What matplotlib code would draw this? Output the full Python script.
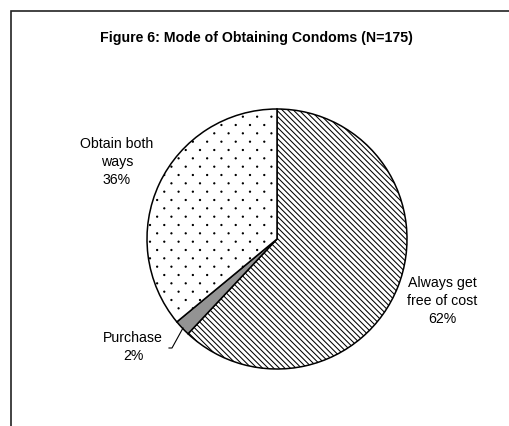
import numpy as np
import matplotlib.pyplot as plt
import matplotlib.hatch as mhatch
from matplotlib.path import Path
from matplotlib.patches import Rectangle

plt.rcParams["font.family"] = ["Liberation Sans", "DejaVu Sans"]
plt.rcParams["hatch.linewidth"] = 0.75

# data
categories = ["Always get\nfree of cost", "Purchase", "Obtain both\nways"]
shares = [62, 2, 36]
hatches = ["\\\\\\\\\\\\", "", "."]
colors = ["white", "#939393", "white"]


# '.' hatch replaced by a sparser, staggered dot grid like the original
class StaggeredDots(mhatch.HatchPatternBase):
    cols, rows, radius = 7, 12, 0.006

    def __init__(self, hatch, density):
        self.on = hatch.count(".") > 0
        circle = Path.unit_circle()
        self.shape_vertices = circle.vertices * self.radius
        self.shape_codes = circle.codes
        centres = []
        for i in range(self.rows + 1):
            y = i / self.rows
            if i % 2 == 0:
                xs = np.arange(self.cols + 1) / self.cols
            else:
                xs = (np.arange(self.cols) + 0.5) / self.cols
            centres += [(x, y) for x in xs]
        self.centres = centres
        self.num_vertices = len(centres) * len(circle.vertices) if self.on else 0

    def set_vertices_and_codes(self, vertices, codes):
        n = len(self.shape_vertices)
        for k, (x, y) in enumerate(self.centres):
            vertices[k * n:(k + 1) * n] = self.shape_vertices + (x, y)
            codes[k * n:(k + 1) * n] = self.shape_codes


mhatch._hatch_types = [t for t in mhatch._hatch_types
                       if t is not mhatch.SmallFilledCircles] + [StaggeredDots]

W, H = 509, 427
fig = plt.figure(figsize=(W / 100, H / 100), dpi=100)
ax = fig.add_axes([0, 0, 1, 1])

wedges, _ = ax.pie(
    shares,
    colors=colors,
    startangle=90,
    counterclock=False,
    center=(277, H - 240),
    radius=130,
    wedgeprops=dict(edgecolor="black", linewidth=1.1),
)
for w, h in zip(wedges, hatches):
    w.set_hatch(h)

ax.set_xlim(0, W)
ax.set_ylim(0, H)
ax.set_aspect("equal")
ax.axis("off")

# frame of the chart area (right and bottom run off the picture)
ax.add_patch(Rectangle((11, -20), 600, H - 12 + 20, fill=False,
                       edgecolor="#222222", linewidth=1.2, clip_on=False))

ax.text(256, H - 38, "Figure 6: Mode of Obtaining Condoms (N=175)",
        ha="center", va="center", fontsize=10.2, fontweight="bold")

label_pos = [(442, H - 301), (133, H - 347), (117, H - 162)]
for name, pct, (x, y) in zip(categories, shares, label_pos):
    ax.text(x, y, f"{name}\n{pct}%", ha="center", va="center",
            fontsize=10.2, linespacing=1.35)

# leader line for the small slice
ax.plot([169, 172, 183], [H - 349, H - 349, H - 329],
        color="black", linewidth=0.8)

fig.savefig("out.png", dpi=100, facecolor="white")
